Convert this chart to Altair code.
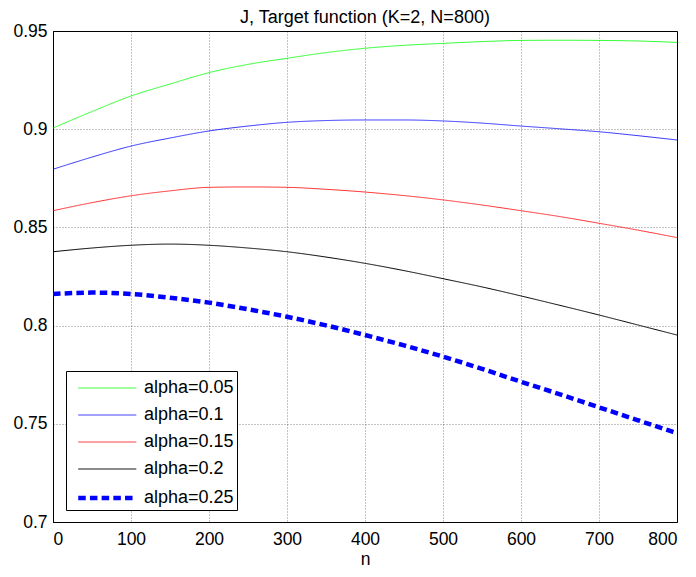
import altair as alt
import pandas as pd

n_values = [0, 50, 100, 150, 200, 250, 300, 350, 400, 450, 500, 550, 600, 650, 700, 750, 800]
alpha_005 = [0.9006, 0.9090, 0.9169, 0.9230, 0.9288, 0.9330, 0.9361, 0.9390, 0.9412, 0.9427, 0.9437, 0.9446, 0.9452, 0.9453, 0.9452, 0.9449, 0.9442]
alpha_010 = [0.8796, 0.8858, 0.8914, 0.8955, 0.8991, 0.9016, 0.9035, 0.9044, 0.9047, 0.9047, 0.9042, 0.9031, 0.9016, 0.9002, 0.8987, 0.8967, 0.8945]
alpha_015 = [0.8585, 0.8626, 0.8661, 0.8686, 0.8704, 0.8706, 0.8704, 0.8694, 0.8680, 0.8662, 0.8640, 0.8614, 0.8585, 0.8555, 0.8521, 0.8486, 0.8448]
alpha_020 = [0.8376, 0.8395, 0.8409, 0.8415, 0.8409, 0.8395, 0.8376, 0.8349, 0.8317, 0.8280, 0.8239, 0.8197, 0.8151, 0.8103, 0.8054, 0.8003, 0.7952]
alpha_025 = [0.8161, 0.8168, 0.8161, 0.8142, 0.8117, 0.8083, 0.8045, 0.8001, 0.7952, 0.7899, 0.7842, 0.7780, 0.7714, 0.7650, 0.7584, 0.7518, 0.7452]

series_names = ["alpha=0.05", "alpha=0.1", "alpha=0.15", "alpha=0.2", "alpha=0.25"]
series_values = [alpha_005, alpha_010, alpha_015, alpha_020, alpha_025]
series_colors = ["#00ff00", "#0000ff", "#ff0000", "#000000", "#0000ff"]
series_dash = [[1, 0], [1, 0], [1, 0], [1, 0], [7.5, 4.2]]
series_width = [0.8, 0.8, 0.8, 1.0, 4.5]

y_ticks = [0.7, 0.75, 0.8, 0.85, 0.9, 0.95]
x_ticks = [0, 100, 200, 300, 400, 500, 600, 700, 800]

rows = []
for name, vals in zip(series_names, series_values):
    for n, v in zip(n_values, vals):
        rows.append({"n": n, "J": v, "series": name})
df = pd.DataFrame(rows)

FONT = "Liberation Sans"

chart = alt.Chart(df).mark_line(interpolate="monotone", strokeCap="butt").encode(
    x=alt.X("n:Q", scale=alt.Scale(domain=[0, 800], nice=False),
            axis=alt.Axis(values=x_ticks, title="n", titlePadding=3, labelPadding=8)),
    y=alt.Y("J:Q", scale=alt.Scale(domain=[0.7, 0.95], nice=False, zero=False),
            axis=alt.Axis(values=y_ticks, format="~g", title=None, labelPadding=6)),
    color=alt.Color("series:O", scale=alt.Scale(type="ordinal", domain=series_names, range=series_colors),
                    sort=series_names,
                    legend=alt.Legend(title=None, orient="none", legendX=13, legendY=340,
                                      symbolType="M-0.5,0H3.8", symbolSize=729,
                                      labelFontSize=18, labelFont=FONT, labelColor="black",
                                      strokeColor="black", fillColor="white",
                                      padding=3, rowPadding=4, labelOffset=43,
                                      cornerRadius=0)),
    strokeDash=alt.StrokeDash("series:O", scale=alt.Scale(type="ordinal", domain=series_names, range=series_dash),
                              sort=series_names),
    strokeWidth=alt.StrokeWidth("series:O", scale=alt.Scale(type="ordinal", domain=series_names, range=series_width),
                                sort=series_names),
    detail="series:N",
).properties(
    width=624,
    height=491,
    title=alt.Title("J, Target function (K=2, N=800)", fontSize=18, fontWeight="normal",
                    font=FONT, color="black", offset=-5, frame="group"),
    autosize=alt.AutoSizeParams(type="none"),
    padding={"left": 45, "top": 23, "right": 11, "bottom": 47},
).configure_view(
    stroke="black", strokeWidth=1
).configure_axis(
    labelFont=FONT, labelFontSize=17.5, labelColor="black",
    titleFont=FONT, titleFontSize=17.5, titleFontWeight="normal", titleColor="black",
    domain=True, domainColor="black", ticks=False,
    grid=True, gridColor="#000000", gridDash=[1, 2], gridOpacity=0.6, gridWidth=0.8,
)

chart.save("out.html", embed_options={"renderer": "svg", "actions": False})
